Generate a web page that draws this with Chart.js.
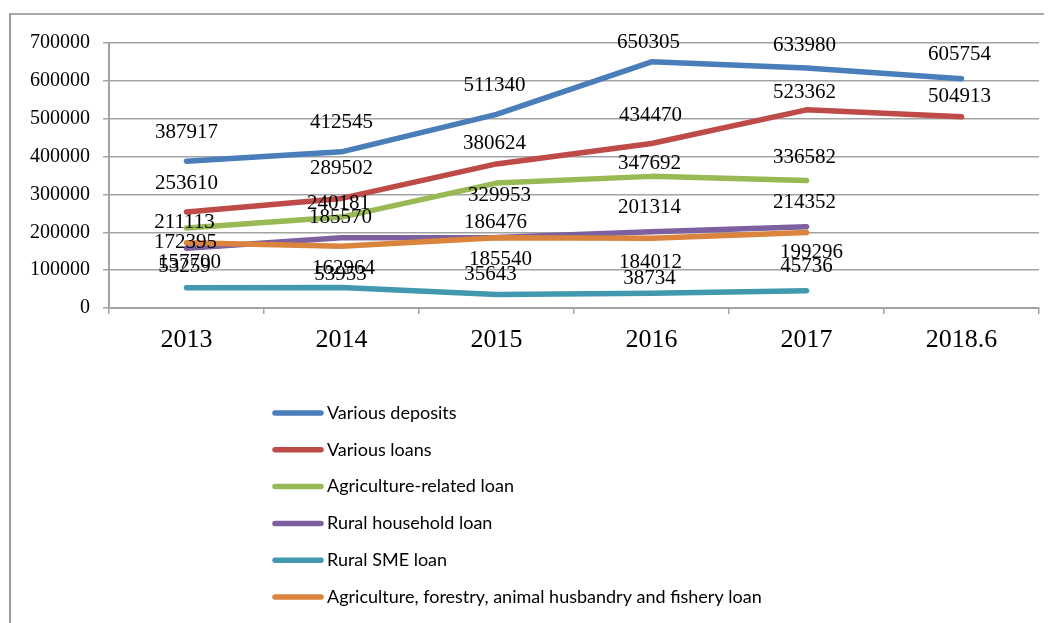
<!DOCTYPE html>
<html>
<head>
<meta charset="utf-8">
<script src="https://cdn.jsdelivr.net/npm/chart.js@4/dist/chart.umd.min.js"></script>
<style>
  html, body { margin: 0; padding: 0; background: #ffffff; }
  #wrap { width: 1054px; height: 623px; position: relative; }
</style>
</head>
<body>
<div id="wrap"><canvas id="c" width="1054" height="623"></canvas></div>
<script>
// ---- data ----
const categories = ['2013', '2014', '2015', '2016', '2017', '2018.6'];
const variousDeposits = [387917, 412545, 511340, 650305, 633980, 605754];
const variousLoans = [253610, 289502, 380624, 434470, 523362, 504913];
const agricultureRelatedLoan = [211113, 240181, 329953, 347692, 336582, null];
const ruralHouseholdLoan = [157700, 185570, 186476, 201314, 214352, null];
const ruralSmeLoan = [53259, 53953, 35643, 38734, 45736, null];
const agriForestryFisheryLoan = [172395, 162964, 185540, 184012, 199296, null];
const seriesNames = [
  'Various deposits',
  'Various loans',
  'Agriculture-related loan',
  'Rural household loan',
  'Rural SME loan',
  'Agriculture, forestry, animal husbandry and fishery loan'
];
const yMin = 0, yMax = 700000, yStep = 100000;

// ---- styles ----
const colors = ['#4A7EBB', '#BE4B48', '#98B954', '#7D60A0', '#4198AF', '#DB843D'];
// vertical offsets (px) of each data label relative to its point
const labelDy = [
  [-29, -29, -29, -19, -23, -24],
  [-29, -30, -20, -28, -17, -20],
  [-6, -14, 12, -13, -23],
  [14, -20, -15, -24, -24],
  [-21, -13, -20, -15, -24],
  [0, 22, 22, 24, 20]
];
const labelDx = [
  [0, 0, -2, -3, -2, -2],
  [0, 0, -2, -1, -2, -2],
  [-2, -3, 3, -2, -2],
  [3, -1, -1, -2, -2],
  [-2, -1, -6, -2, 0],
  [-1, 2, 4, -1, 5]
];
const serif = "'Liberation Serif', 'Times New Roman', serif";
const gridColor = '#a3a3a3';

const seriesData = [variousDeposits, variousLoans, agricultureRelatedLoan,
  ruralHouseholdLoan, ruralSmeLoan, agriForestryFisheryLoan];

const datasets = seriesData.map((d, i) => ({
  label: seriesNames[i],
  data: d,
  borderColor: colors[i],
  backgroundColor: colors[i],
  borderWidth: 5.5,
  borderCapStyle: 'round',
  borderJoinStyle: 'round',
  pointRadius: 0,
  pointHoverRadius: 0,
  tension: 0,
  fill: false,
  spanGaps: false,
  order: -i
}));

const framePlugin = {
  id: 'frame',
  beforeDraw(chart) {
    const ctx = chart.ctx;
    ctx.save();
    ctx.fillStyle = '#ffffff';
    ctx.fillRect(0, 0, chart.width, chart.height);
    ctx.strokeStyle = '#8c8c8c';
    ctx.lineWidth = 1.7;
    ctx.beginPath();
    ctx.moveTo(10, 640);
    ctx.lineTo(10, 14);
    ctx.lineTo(1044, 14);
    ctx.stroke();
    ctx.restore();
  }
};

const labelPlugin = {
  id: 'valueLabels',
  afterDatasetsDraw(chart) {
    const ctx = chart.ctx;
    ctx.save();
    ctx.font = '21px ' + serif;
    ctx.fillStyle = '#000000';
    ctx.textAlign = 'center';
    ctx.textBaseline = 'middle';
    chart.data.datasets.forEach((ds, i) => {
      const meta = chart.getDatasetMeta(i);
      meta.data.forEach((pt, j) => {
        const v = ds.data[j];
        if (v === null || v === undefined) return;
        const dy = (labelDy[i] && labelDy[i][j] !== undefined) ? labelDy[i][j] : -20;
        const dx = (labelDx[i] && labelDx[i][j] !== undefined) ? labelDx[i][j] : 0;
        ctx.fillText(String(v), pt.x + dx, pt.y + dy);
      });
    });
    ctx.restore();
  }
};

const legendPlugin = {
  id: 'vertLegend',
  afterDraw(chart) {
    const ctx = chart.ctx;
    ctx.save();
    ctx.font = "18px Lato, 'Open Sans', sans-serif";
    ctx.textAlign = 'left';
    ctx.textBaseline = 'middle';
    chart.data.datasets.forEach((ds, i) => {
      const y = 413 + i * 36.8;
      ctx.strokeStyle = ds.borderColor;
      ctx.lineWidth = 5.5;
      ctx.lineCap = 'round';
      ctx.beginPath();
      ctx.moveTo(275, y);
      ctx.lineTo(321, y);
      ctx.stroke();
      ctx.fillStyle = '#000000';
      ctx.fillText(ds.label, 327, y);
    });
    ctx.restore();
  }
};

new Chart(document.getElementById('c'), {
  type: 'line',
  data: { labels: categories, datasets: datasets },
  options: {
    responsive: false,
    animation: false,
    events: [],
    layout: { padding: { left: 0, top: 43, right: 15, bottom: 265 } },
    plugins: {
      legend: { display: false },
      tooltip: { enabled: false }
    },
    scales: {
      x: {
        type: 'category',
        offset: true,
        grid: {
          offset: true,
          drawOnChartArea: false,
          drawTicks: true,
          tickLength: 6,
          color: gridColor,
          lineWidth: 1.5
        },
        border: { display: true, color: gridColor, width: 2 },
        ticks: {
          color: '#000000',
          font: { family: serif, size: 26 },
          padding: 11,
          maxRotation: 0,
          autoSkip: false
        },
        afterFit(scale) { scale.height = 50; }
      },
      y: {
        min: yMin,
        max: yMax,
        grid: {
          color: gridColor,
          lineWidth: 1.5,
          drawTicks: true,
          tickLength: 6
        },
        border: { display: true, color: gridColor, width: 2 },
        ticks: {
          stepSize: yStep,
          color: '#000000',
          font: { family: serif, size: 20 },
          padding: 13,
          callback: (v) => String(v)
        },
        afterFit(scale) { scale.width = 109; }
      }
    }
  },
  plugins: [framePlugin, labelPlugin, legendPlugin]
});
</script>
</body>
</html>
